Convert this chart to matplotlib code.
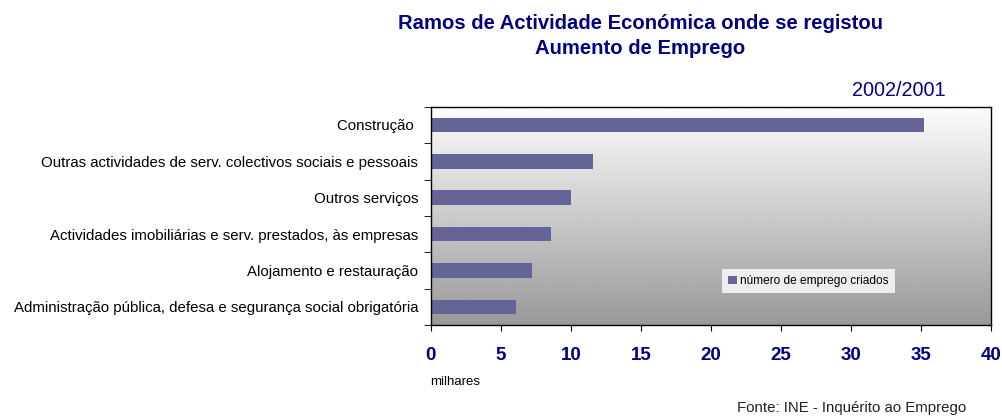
import matplotlib
matplotlib.use("Agg")
import matplotlib.pyplot as plt
import numpy as np

categories = [
    "Construção ",
    "Outras actividades de serv. colectivos sociais e pessoais",
    "Outros serviços",
    "Actividades imobiliárias e serv. prestados, às empresas",
    "Alojamento e restauração",
    "Administração pública, defesa e segurança social obrigatória",
]
values = [35.2, 11.6, 10.0, 8.6, 7.2, 6.05]
xticks = [0, 5, 10, 15, 20, 25, 30, 35, 40]
series_name = "número de emprego criados"

plt.rcParams['font.family'] = ['Liberation Sans', 'DejaVu Sans']
navy = "#000080"
bar_color = "#646496"

fig = plt.figure(figsize=(10.02, 4.18), dpi=100)
ax = fig.add_axes([0.430, 0.2225, 0.559, 0.522])

y = np.arange(len(categories))[::-1]
# gradient background
grad = np.linspace(0.99, 0.60, 256).reshape(-1, 1)
ax.imshow(grad, cmap="gray", vmin=0, vmax=1, aspect="auto",
          extent=[0, 1, 0, 1], transform=ax.transAxes, zorder=0)

ax.barh(y, values, height=0.4, color=bar_color, zorder=2, label=series_name)
ax.set_xlim(0, 40)
ax.set_ylim(-0.5, len(categories) - 0.5)

ax.set_xticks(xticks)
ax.set_xticklabels([str(t) for t in xticks], fontsize=13.5, fontweight="bold", color=navy)
ax.tick_params(axis="x", length=4, pad=12, direction="out")

ax.set_yticks(y)
ax.set_yticklabels(categories, fontsize=10.8)
ax.tick_params(axis="y", length=0, pad=9)
ax.set_yticks(np.arange(-0.5, len(categories), 1.0), minor=True)
ax.tick_params(axis="y", which="minor", length=5)

for s in ax.spines.values():
    s.set_color("black")
    s.set_linewidth(1.0)

leg = ax.legend(loc="lower left", bbox_to_anchor=(0.51, 0.118), fontsize=8.6,
                frameon=True, fancybox=False, handlelength=0.7, handleheight=0.7,
                handletextpad=0.3, borderpad=0.5, edgecolor="white")
leg.get_frame().set_facecolor("white")
leg.get_frame().set_linewidth(0)

fig.text(0.639, 0.914, "Ramos de Actividade Económica onde se registou\nAumento de Emprego",
         ha="center", va="center", fontsize=14.6, fontweight="bold", color=navy,
         linespacing=1.45)
fig.text(0.944, 0.783, "2002/2001", ha="right", va="center", fontsize=14.3, color=navy)
fig.text(0.429, 0.086, "milhares", ha="left", va="center", fontsize=9.5, color="black")
fig.text(0.964, 0.024, "Fonte: INE - Inquérito ao Emprego", ha="right", va="center",
         fontsize=10.8, color="#222222")

fig.savefig("out.png", dpi=100)
